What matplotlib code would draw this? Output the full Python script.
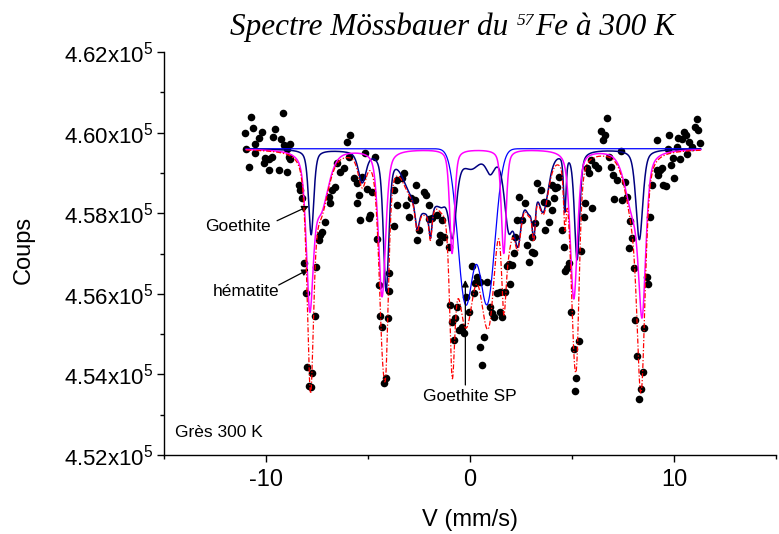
import numpy as np
import matplotlib
matplotlib.use("Agg")
import matplotlib.pyplot as plt

plt.rcParams['font.family'] = ['Liberation Sans', 'DejaVu Sans']
plt.rcParams['mathtext.fontset'] = 'custom'
plt.rcParams['mathtext.rm'] = 'Liberation Sans'
plt.rcParams['mathtext.it'] = 'Liberation Sans:italic'
plt.rcParams['mathtext.bf'] = 'Liberation Sans:bold'

# ---------------- data ----------------
velocity = [-10.99, -10.94, -10.83, -10.74, -10.63, -10.50, -10.50, -10.34, -10.17, -10.06,
            -10.01, -9.85, -9.85, -9.68, -9.65, -9.52, -9.36, -9.24, -9.16, -9.11,
            -8.95, -8.95, -8.87, -8.79, -8.79, -8.38, -8.30, -8.21, -8.13, -8.00,
            -7.97, -7.86, -7.76, -7.72, -7.56, -7.51, -7.40, -7.32, -7.23, -7.07,
            -6.91, -6.83, -6.74, -6.58, -6.50, -6.34, -6.18, -6.01, -5.93, -5.85,
            -5.68, -5.52, -5.52, -5.44, -5.36, -5.27, -5.11, -5.03, -4.95, -4.87,
            -4.79, -4.62, -4.54, -4.46, -4.38, -4.29, -4.21, -4.13, -4.00, -3.97,
            -3.94, -3.73, -3.73, -3.56, -3.56, -3.32, -3.24, -3.15, -2.99, -2.86,
            -2.70, -2.66, -2.58, -2.50, -2.26, -2.17, -2.01, -2.01, -1.85, -1.60,
            -1.52, -1.44, -1.36, -1.28, -1.03, -0.95, -0.87, -0.79, -0.71, -0.62,
            -0.54, -0.38, -0.30, -0.17, -0.05, 0.11, 0.19, 0.27, 0.36, 0.52,
            0.52, 0.60, 0.68, 0.85, 1.01, 1.09, 1.17, 1.34, 1.50, 1.50,
            1.58, 1.74, 1.83, 1.91, 1.99, 2.07, 2.15, 2.23, 2.32, 2.39,
            2.56, 2.72, 2.81, 2.88, 3.05, 3.05, 3.13, 3.21, 3.30, 3.46,
            3.62, 3.70, 3.79, 3.86, 4.03, 4.03, 4.11, 4.19, 4.28, 4.35,
            4.52, 4.60, 4.68, 4.76, 4.84, 4.93, 5.09, 5.14, 5.21, 5.33,
            5.42, 5.58, 5.66, 5.74, 5.82, 5.91, 5.99, 6.15, 6.28, 6.44,
            6.53, 6.64, 6.72, 6.80, 6.89, 7.00, 7.05, 7.21, 7.38, 7.46,
            7.62, 7.70, 7.78, 7.83, 7.95, 8.03, 8.11, 8.19, 8.27, 8.39,
            8.49, 8.55, 8.65, 8.71, 8.84, 8.93, 9.14, 9.17, 9.20, 9.30,
            9.42, 9.47, 9.58, 9.71, 9.77, 9.86, 9.96, 10.02, 10.15, 10.20,
            10.31, 10.40, 10.48, 10.56, 10.64, 10.72, 10.89, 11.00, 11.10, 11.16,
            11.26]
counts = [459981, 459584, 459153, 460378, 460105, 459716, 459485, 459857, 460021, 459237,
          459361, 459336, 459071, 459401, 459882, 460080, 459071, 459832, 460493, 459691,
          459584, 459029, 459401, 459708, 459336, 458699, 458575, 458369, 456771, 456027,
          454191, 453712, 453680, 454042, 455449, 456672, 457334, 457458, 457540, 457788,
          458408, 458244, 458575, 458657, 459237, 459029, 459113, 459773, 459401, 459939,
          458865, 458741, 458244, 458451, 457830, 458905, 459500, 458592, 457872, 457954,
          458533, 459401, 457351, 456218, 455449, 455168, 453779, 453903, 455391, 456077,
          456508, 457682, 458575, 458203, 458823, 458865, 459004, 458203, 457912, 458369,
          458327, 458699, 457334, 457582, 458533, 458451, 458203, 457847, 457872, 457954,
          457292, 457458, 457830, 457400, 457168, 455722, 455307, 454853, 455391, 455679,
          455101, 455183, 455019, 455927, 455555, 456689, 456012, 456260, 456424, 456300,
          454672, 454233, 454935, 456300, 455679, 455515, 455431, 456012, 456052, 455555,
          455431, 456052, 456689, 456739, 456243, 456714, 457004, 457416, 457830, 458393,
          457830, 458245, 457210, 456796, 457044, 457416, 457004, 457749, 458741, 458575,
          458284, 457582, 458244, 457788, 458078, 458699, 458369, 458617, 458657, 458905,
          457582, 457153, 456573, 456632, 456771, 455555, 454622, 453595, 453903, 454828,
          457069, 457897, 458260, 459113, 459004, 459319, 458121, 459195, 459113, 460046,
          459815, 459939, 460354, 459386, 459153, 458947, 458344, 458823, 459550, 458327,
          458781, 458408, 457128, 457813, 457376, 456632, 455349, 454456, 453382, 453630,
          454067, 455143, 456424, 456235, 457897, 458699, 459071, 459815, 458947, 459071,
          459128, 458699, 458674, 459592, 459939, 459195, 459376, 458865, 459649, 459857,
          459336, 459832, 460021, 459939, 459468, 459773, 459649, 460130, 460336, 460063,
          459733]

baseline = 459600
fit_range = (-10.95, 11.3)

# hematite sextet (magenta): line positions, depths, widths
hem_pos = [-7.84, -7.30, -4.30, -0.87, 1.66, 5.09, 8.44, 7.98]
hem_depth = [3500, 1400, 3650, 2580, 2580, 3700, 3500, 1400]
hem_fwhm = [0.40, 0.90, 0.42, 0.28, 0.28, 0.42, 0.42, 0.90]

# superparamagnetic goethite doublet (blue)
dbl_pos = [-0.21, 0.85]
dbl_depth = [3800, 3790]
dbl_fwhm = [0.895, 0.895]

# goethite distribution (navy)
goe_pos = [-7.77, -5.27, -4.10, -3.05, -2.58, -1.93, -2.2, -1.35, -0.85, 0.1,
           1.0, 1.9, 2.35, 2.9, 3.13, 3.6, 4.65, 5.25, 8.3]
goe_depth = [2110, 755, 3363, 249, 647, 747, 1436, 563, 1754, 311,
             430, 1711, 1863, 1211, 1007, 1368, 1396, 2686, 2241]
goe_fwhm = [0.30, 0.45, 0.32, 0.7, 0.25, 0.18, 1.6, 0.6, 0.45, 0.9,
            0.5, 0.5, 0.45, 0.6, 0.18, 0.6, 0.15, 0.30, 0.40]

y_ticks = [452000, 454000, 456000, 458000, 460000, 462000]
y_tick_labels = ['4.52x10$^{5}$', '4.54x10$^{5}$', '4.56x10$^{5}$', '4.58x10$^{5}$',
                 '4.60x10$^{5}$', '4.62x10$^{5}$']
y_minor = [453000, 455000, 457000, 459000, 461000]
x_ticks = [-10, 0, 10]
x_tick_labels = ['-10', '0', '10']
x_minor = [-15, -5, 5, 15]


def pvoigt(x, pos, depth, fwhm, eta=0.5):
    out = np.zeros_like(x)
    for p, d, w in zip(pos, depth, fwhm):
        u = (x - p) / w
        out += d * (eta / (1 + 4 * u ** 2) + (1 - eta) * np.exp(-4 * np.log(2) * u ** 2))
    return out


def gauss(x, pos, depth, fwhm):
    out = np.zeros_like(x)
    for p, d, w in zip(pos, depth, fwhm):
        out += d * np.exp(-4 * np.log(2) * ((x - p) / w) ** 2)
    return out


v = np.linspace(fit_range[0], fit_range[1], 3000)
hem = pvoigt(v, hem_pos, hem_depth, hem_fwhm)
dbl = gauss(v, dbl_pos, dbl_depth, dbl_fwhm)
goe = pvoigt(v, goe_pos, goe_depth, goe_fwhm)

fig = plt.figure(figsize=(7.79, 5.34), dpi=100)
ax = fig.add_axes([163.5 / 779, 79 / 534, 612.7 / 779, 403 / 534])

ax.scatter(velocity, counts, s=30, color='black', zorder=2, linewidths=0)
ax.plot(v, baseline - dbl, color='#0000FF', lw=0.9, zorder=3)
ax.plot(v, baseline - goe, color='#000080', lw=1.1, zorder=3)
ax.plot(v, baseline - hem, color='#FF00FF', lw=1.1, zorder=3)
ax.plot(v, baseline - hem - dbl - goe, color='#FF0000', lw=0.9,
        linestyle=(0, (4, 1.5, 1, 1.5)), zorder=4)

ax.set_xlim(-15, 15)
ax.set_ylim(452000, 462000)
ax.set_xticks(x_ticks)
ax.set_xticklabels(x_tick_labels)
ax.set_xticks(x_minor, minor=True)
ax.set_yticks(y_ticks)
ax.set_yticklabels(y_tick_labels)
ax.set_yticks(y_minor, minor=True)
for s in ['top', 'right']:
    ax.spines[s].set_visible(False)
for s in ['left', 'bottom']:
    ax.spines[s].set_linewidth(1.0)
ax.tick_params(axis='both', which='major', length=5, width=1.0, direction='out')
ax.tick_params(axis='x', which='major', labelsize=17, pad=5)
ax.tick_params(axis='y', which='major', labelsize=16, pad=2)
ax.tick_params(axis='both', which='minor', length=3, width=1.0, direction='out')

ax.set_ylabel('Coups', fontsize=17)
ax.yaxis.set_label_coords(-0.21, 0.509)
fig.text(470 / 779, 1 - 520 / 534, 'V (mm/s)', ha='center', va='center', fontsize=17)

# title with superscript mass number, built from pieces
renderer = fig.canvas.get_renderer()
title_kw = dict(family='Liberation Serif', style='italic')
fs_main, fs_sup = 22.5, 12.5


def text_width(s, size):
    t = fig.text(0, 0, s, fontsize=size, **title_kw)
    w = t.get_window_extent(renderer).width
    t.remove()
    return w


space_w = text_width('a a', fs_main) - text_width('aa', fs_main)
w1 = text_width('Spectre Mössbauer du', fs_main) + space_w
w2 = text_width('57', fs_sup)
w3 = text_width('Fe à 300 K', fs_main)
x0 = 452 - (w1 + w2 + w3) / 2
base_y = 1 - 35 / 534
sup_y = 1 - 25 / 534
fig.text(x0 / 779, base_y, 'Spectre Mössbauer du', fontsize=fs_main, va='baseline', **title_kw)
fig.text((x0 + w1) / 779, sup_y, '57', fontsize=fs_sup, va='baseline', **title_kw)
fig.text((x0 + w1 + w2 + 1) / 779, base_y, 'Fe à 300 K', fontsize=fs_main, va='baseline', **title_kw)

arrow_kw = dict(arrowstyle='-|>', color='black', lw=0.9, mutation_scale=10, shrinkA=0, shrinkB=0)
ax.text(-11.35, 457664, 'Goethite', ha='center', va='center', fontsize=12.5)
ax.annotate('', xy=(-7.89, 458178), xytext=(-9.44, 457813), arrowprops=arrow_kw)
ax.text(-10.95, 456051, 'hématite', ha='center', va='center', fontsize=12.5)
ax.annotate('', xy=(-7.89, 456607), xytext=(-9.36, 456218), arrowprops=arrow_kw)
ax.text(0.02, 453464, 'Goethite SP', ha='center', va='center', fontsize=12.5)
ax.annotate('', xy=(-0.22, 456342), xytext=(-0.22, 453737), arrowprops=arrow_kw)
ax.text(0.019, 0.055, 'Grès 300 K', transform=ax.transAxes, ha='left', va='center', fontsize=12.5)

fig.savefig('out.png', dpi=100)
